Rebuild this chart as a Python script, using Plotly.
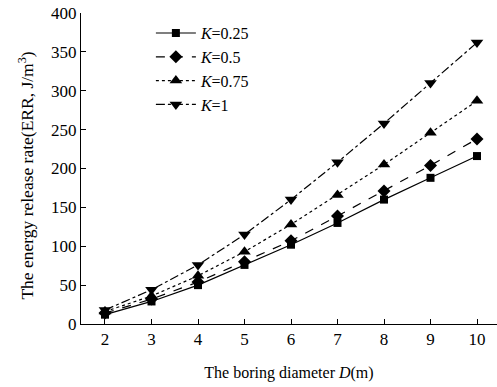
import plotly.graph_objects as go

D = [2, 3, 4, 5, 6, 7, 8, 9, 10]
k025 = [12, 29, 50, 76, 102, 130, 160, 188, 216]
k05 = [14, 32, 54, 80, 107, 139, 171, 204, 238]
k075 = [16, 36, 62, 93, 128, 166, 205, 246, 287]
k1 = [18, 44, 76, 115, 160, 208, 258, 310, 362]
y_ticks = [0, 50, 100, 150, 200, 250, 300, 350, 400]
names = ["<i>K</i>=0.25", "<i>K</i>=0.5", "<i>K</i>=0.75", "<i>K</i>=1"]
series = [k025, k05, k075, k1]
dashes = ["solid", "dash", "dot", "dashdot"]
symbols = ["square", "diamond", "triangle-up", "triangle-down"]
msizes = [8, 10, 11, 11]

fig = go.Figure()
for n, s, d, m, ms in zip(names, series, dashes, symbols, msizes):
    fig.add_trace(go.Scatter(
        x=D, y=s, name=n, mode="lines+markers",
        line=dict(color="black", width=1.2, dash=d),
        marker=dict(symbol=m, size=ms, color="black"),
    ))

fam = "Liberation Serif, Times New Roman, serif"
fig.update_layout(
    width=497, height=387,
    margin=dict(l=81, r=0, t=13, b=63),
    paper_bgcolor="white", plot_bgcolor="white",
    font=dict(family=fam, size=17, color="black"),
    showlegend=True,
    legend=dict(x=0.168, y=0.99, xanchor="left", yanchor="top",
                bgcolor="rgba(0,0,0,0)", font=dict(size=16),
                tracegroupgap=0, itemwidth=40),
    annotations=[dict(
        text="The energy release rate(ERR, J/m<sup>3</sup>)",
        xref="paper", yref="paper", x=-0.132, y=0.4775,
        xanchor="center", yanchor="middle", textangle=-90,
        showarrow=False, font=dict(size=17.5),
    )],
)
fig.update_xaxes(
    range=[1.484, 10.43], tickvals=D, ticktext=[str(v) for v in D],
    showline=True, linecolor="black", linewidth=1,
    ticks="inside", ticklen=5, tickcolor="black",
    showgrid=False, zeroline=False, automargin=False,
    title=dict(text="The boring diameter <i>D</i>(m)", standoff=18,
               font=dict(size=16)),
)
fig.update_yaxes(
    range=[0, 400], tickvals=y_ticks,
    showline=True, linecolor="black", linewidth=1,
    ticks="inside", ticklen=5, tickcolor="black",
    showgrid=False, zeroline=False, automargin=False,
)
fig.write_html("out.html", config={"displayModeBar": False},
               post_script="document.body.style.margin='0';document.body.style.overflow='hidden';")
